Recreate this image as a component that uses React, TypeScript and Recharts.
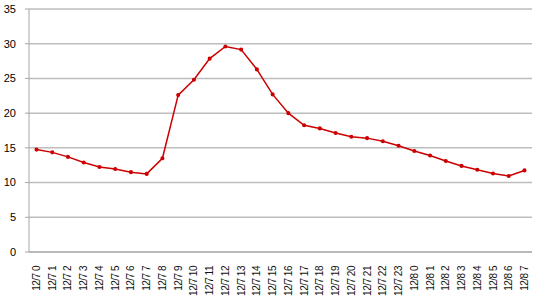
import { LineChart, Line, XAxis, YAxis, CartesianGrid } from "recharts";

const hours = [
  "12/7 0", "12/7 1", "12/7 2", "12/7 3", "12/7 4", "12/7 5", "12/7 6", "12/7 7",
  "12/7 8", "12/7 9", "12/7 10", "12/7 11", "12/7 12", "12/7 13", "12/7 14", "12/7 15",
  "12/7 16", "12/7 17", "12/7 18", "12/7 19", "12/7 20", "12/7 21", "12/7 22", "12/7 23",
  "12/8 0", "12/8 1", "12/8 2", "12/8 3", "12/8 4", "12/8 5", "12/8 6", "12/8 7",
];

const values = [
  14.75, 14.35, 13.7, 12.9, 12.25, 11.95, 11.5, 11.25,
  13.5, 22.6, 24.8, 27.85, 29.6, 29.15, 26.3, 22.7,
  20.0, 18.25, 17.8, 17.15, 16.6, 16.4, 15.95, 15.3,
  14.55, 13.9, 13.1, 12.4, 11.85, 11.3, 10.95, 11.75,
];

const yTicks = [0, 5, 10, 15, 20, 25, 30, 35];

const data = hours.map((h, i) => ({ h, v: values[i] }));

const font = "'Liberation Sans', Arial, sans-serif";

function HourTick(props: any) {
  const { x, y, payload } = props;
  return (
    <g transform={`translate(${x},${y})`}>
      <text
        transform="rotate(-90)"
        x={-6}
        y={0}
        dy="0.35em"
        textAnchor="end"
        fontSize={10}
        letterSpacing={-0.5}
        fontFamily={font}
        fill="#111"
      >
        {payload.value}
      </text>
    </g>
  );
}

export default function App() {
  return (
    <div style={{ position: "absolute", left: 0, top: 0, background: "#fff" }}>
      <LineChart
        width={540}
        height={298}
        data={data}
        margin={{ top: 9, right: 8, bottom: 0, left: 5 }}
      >
        <CartesianGrid vertical={false} stroke="#bdbdbd" strokeWidth={1.5} />
        <XAxis
          dataKey="h"
          interval={0}
          height={46}
          padding={{ left: 7.5, right: 7.5 }}
          stroke="#a6a6a6"
          tickLine={false}
          tick={<HourTick />}
        />
        <YAxis
          domain={[0, 35]}
          ticks={yTicks}
          width={24}
          stroke="#a6a6a6"
          tickSize={4}
          tickMargin={9}
          tick={{ fontSize: 11, fill: "#000", fontFamily: font }}
        />
        <Line
          dataKey="v"
          stroke="#cc0000"
          strokeWidth={1.5}
          dot={{ r: 1.3, fill: "#cc0000", stroke: "#cc0000" }}
          isAnimationActive={false}
        />
      </LineChart>
    </div>
  );
}
